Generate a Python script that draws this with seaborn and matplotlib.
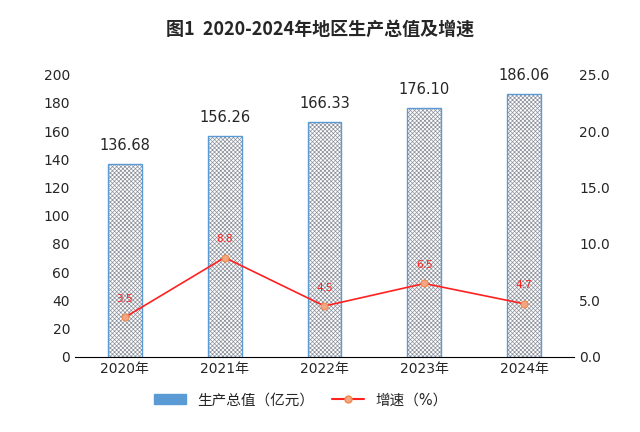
import matplotlib
matplotlib.use("Agg")
import matplotlib.pyplot as plt
import seaborn as sns
import pandas as pd
from matplotlib.patches import Patch
from matplotlib.lines import Line2D

years = ["2020年", "2021年", "2022年", "2023年", "2024年"]
gdp = [136.68, 156.26, 166.33, 176.10, 186.06]
growth = [3.5, 8.8, 4.5, 6.5, 4.7]

sns.set_style("white")
plt.rcParams["font.family"] = ["DejaVu Sans", "Noto Sans CJK SC"]
plt.rcParams["hatch.linewidth"] = 0.5

df = pd.DataFrame({"year": years, "gdp": gdp, "growth": growth})

fig = plt.figure(figsize=(6.4, 4.32), dpi=100)
ax = fig.add_axes([0.117, 0.174, 0.78, 0.653])

# hatched fill, then blue outline
sns.barplot(data=df, x="year", y="gdp", ax=ax, color="white", width=0.34,
            edgecolor="#8a8f99", linewidth=0, hatch="xxxxxxxx")
ax.bar(range(len(years)), gdp, width=0.34, fill=False, edgecolor="#5b9bd5", linewidth=1)
for i, v in enumerate(gdp):
    ax.text(i, v + 8, f"{v:.2f}", ha="center", va="bottom", fontsize=10.5)

ax.set_ylim(0, 200)
ax.set_yticks(range(0, 201, 20))
ax.set_xlim(-0.5, 4.5)
ax.set_xlabel("")
ax.set_ylabel("")
for s in ["top", "left", "right"]:
    ax.spines[s].set_visible(False)
ax.spines["bottom"].set_color("black")
ax.tick_params(axis="both", labelsize=10, length=0)

ax2 = ax.twinx()
sns.lineplot(x=list(range(len(years))), y=growth, ax=ax2, color="#ff2020", linewidth=1.2,
             marker="o", markersize=5, markerfacecolor="#f4a582", markeredgecolor="#f08a4b")
for i, v in enumerate(growth):
    ax2.text(i, v + 1.2, f"{v}", ha="center", va="bottom", fontsize=7.5, color="#ff2020")
ax2.set_ylim(0, 25)
ax2.set_yticks([0, 5, 10, 15, 20, 25])
ax2.set_yticklabels([f"{t:.1f}" for t in [0, 5, 10, 15, 20, 25]])
for s in ["top", "left", "right", "bottom"]:
    ax2.spines[s].set_visible(False)
ax2.tick_params(axis="y", labelsize=10, length=0)

handles = [Patch(facecolor="#5b9bd5", edgecolor="#5b9bd5"),
           Line2D([0], [0], color="#ff2020", marker="o", markersize=5,
                  markerfacecolor="#f4a582", markeredgecolor="#f08a4b")]
fig.legend(handles, ["生产总值（亿元）", "增速（%）"], loc="center", bbox_to_anchor=(0.47, 0.075),
           ncol=2, frameon=False, fontsize=10.5, handlelength=2.2, columnspacing=1.2)

fig.suptitle("图1  2020-2024年地区生产总值及增速", y=0.955, fontsize=13, fontweight="bold",
             family=["Noto Sans CJK SC", "DejaVu Sans"])

fig.savefig("out.png", dpi=100)
